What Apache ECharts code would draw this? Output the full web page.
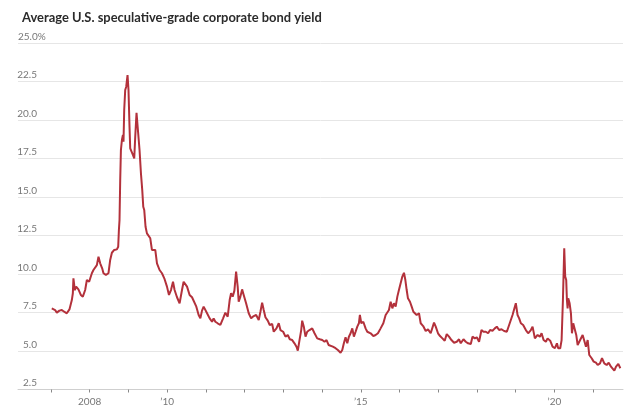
<!DOCTYPE html>
<html>
<head>
<meta charset="utf-8">
<script src="https://cdn.jsdelivr.net/npm/echarts@6/dist/echarts.min.js"></script>
<style>
html,body{margin:0;padding:0;background:#fff;}
#chart{width:630px;height:419px;}
</style>
</head>
<body>
<div id="chart"></div>
<script>
const titleText = 'Average U.S. speculative-grade corporate bond yield';
// decimal years
const years = [
2007.022,2007.108,2007.152,2007.219,2007.281,2007.341,2007.410,2007.478,2007.540,2007.566,2007.581,2007.617,2007.651,2007.710,2007.772,2007.824,2007.884,2007.928,2007.987,
2008.057,2008.098,2008.142,2008.186,2008.228,2008.272,2008.323,2008.357,2008.419,2008.486,2008.530,2008.574,2008.634,2008.703,2008.737,2008.755,2008.771,2008.789,2008.807,2008.833,2008.859,2008.874,2008.892,2008.918,2008.944,2008.978,
2009.003,2009.029,2009.047,2009.081,2009.117,2009.151,2009.177,2009.210,2009.246,2009.288,2009.324,2009.358,2009.384,2009.409,2009.443,2009.479,2009.521,2009.565,2009.608,2009.650,2009.694,2009.738,2009.805,2009.867,2009.927,2009.996,
2010.048,2010.100,2010.152,2010.193,2010.255,2010.322,2010.384,2010.426,2010.470,2010.514,2010.581,2010.643,2010.684,2010.754,2010.814,2010.858,2010.901,2010.943,2010.987,
2011.031,2011.098,2011.160,2011.201,2011.245,2011.305,2011.375,2011.445,2011.504,2011.564,2011.615,2011.651,2011.693,2011.737,2011.781,2011.822,2011.848,2011.892,2011.936,2011.977,
2012.039,2012.107,2012.169,2012.236,2012.298,2012.365,2012.409,2012.453,2012.494,2012.538,2012.598,2012.650,2012.712,2012.753,2012.823,2012.882,2012.926,2012.996,
2013.056,2013.115,2013.167,2013.229,2013.288,2013.340,2013.374,2013.418,2013.462,2013.487,2013.529,2013.573,2013.617,2013.676,2013.746,2013.806,2013.875,2013.943,
2014.005,2014.064,2014.116,2014.168,2014.219,2014.279,2014.349,2014.408,2014.478,2014.522,2014.563,2014.607,2014.651,2014.693,2014.737,2014.781,2014.822,2014.866,2014.910,2014.951,2014.977,
2015.013,2015.065,2015.124,2015.168,2015.210,2015.254,2015.324,2015.383,2015.443,2015.512,2015.582,2015.642,2015.686,2015.727,2015.771,2015.815,2015.856,2015.900,2015.944,2015.985,
2016.029,2016.073,2016.115,2016.151,2016.185,2016.218,2016.270,2016.314,2016.358,2016.400,2016.443,2016.503,2016.547,2016.611,2016.676,2016.736,2016.805,2016.849,2016.891,2016.935,2016.994,
2017.046,2017.108,2017.167,2017.219,2017.278,2017.341,2017.408,2017.478,2017.537,2017.581,2017.651,2017.710,2017.770,2017.840,2017.884,2017.943,2017.995,
2018.054,2018.116,2018.168,2018.228,2018.287,2018.339,2018.401,2018.460,2018.512,2018.571,2018.634,2018.701,2018.771,2018.830,2018.874,2018.918,2018.959,
2019.003,2019.047,2019.089,2019.133,2019.192,2019.262,2019.321,2019.391,2019.435,2019.495,2019.565,2019.624,2019.668,2019.720,2019.779,2019.823,2019.890,2019.952,
2020.012,2020.064,2020.097,2020.149,2020.185,2020.219,2020.253,2020.278,2020.304,2020.322,2020.340,2020.356,2020.392,2020.426,2020.452,2020.485,2020.529,2020.563,2020.599,2020.641,2020.685,2020.728,2020.770,2020.814,2020.858,2020.899,2020.961,
2021.013,2021.072,2021.116,2021.176,2021.228,2021.287,2021.349,2021.401,2021.460,2021.504,2021.546,2021.590,2021.649,2021.701
];
// yield, percent
const yields = [
7.77,7.66,7.49,7.62,7.66,7.55,7.45,7.70,8.31,8.75,9.72,8.96,9.18,9.00,8.64,8.53,8.96,9.61,9.50,
10.05,10.26,10.21,10.58,11.12,10.69,10.37,10.05,9.94,10.05,10.91,11.38,11.56,11.60,11.77,12.86,13.50,16.10,18.05,18.70,19.03,18.59,20.65,21.95,22.16,22.92,
21.95,19.57,18.16,18.05,17.73,17.51,18.92,20.47,19.35,18.05,16.54,15.45,14.37,14.16,13.07,12.64,12.75,12.32,11.56,11.45,11.56,10.69,10.26,10.05,9.72,9.18,
8.64,8.96,9.50,8.96,8.49,8.10,8.96,9.50,9.50,9.18,8.64,8.49,8.53,7.88,7.34,7.12,7.62,7.88,7.77,
7.45,7.12,6.90,7.12,6.90,6.80,6.69,7.12,7.49,7.23,8.31,8.75,8.53,8.92,10.15,9.18,8.20,8.53,9.00,8.64,
8.10,7.45,7.12,7.27,7.34,7.01,7.55,8.14,7.66,7.19,6.97,6.69,6.75,6.25,6.47,6.80,6.36,6.25,
5.93,6.04,5.76,5.71,5.50,5.28,5.02,5.71,6.36,6.97,6.58,5.93,6.25,6.36,6.47,6.15,5.82,5.76,
5.71,5.60,5.71,5.39,5.45,5.28,5.18,5.06,4.89,5.06,5.50,5.89,5.50,5.93,6.15,6.47,5.93,6.25,6.58,6.80,7.34,
6.80,6.90,6.47,6.25,6.36,6.15,5.97,6.04,6.15,6.47,6.80,7.34,7.23,7.66,8.20,7.77,8.10,7.88,8.53,8.96,
9.40,9.83,10.08,9.61,8.96,8.42,8.20,7.88,7.55,7.66,7.34,7.45,6.80,6.62,6.30,6.40,6.15,6.25,6.84,6.58,6.15,
5.97,5.82,5.67,6.10,5.93,5.71,5.54,5.60,5.76,5.50,5.76,5.60,5.50,5.45,5.93,5.82,5.89,
5.60,6.36,6.25,6.25,6.15,6.36,6.32,6.47,6.58,6.36,6.41,6.30,6.25,6.69,7.01,7.34,7.45,
8.10,7.34,7.12,6.80,6.69,6.36,6.15,6.36,6.58,5.82,6.04,5.93,6.15,5.71,5.60,5.82,5.67,5.28,
5.18,5.50,5.18,5.18,5.71,8.31,11.67,9.83,9.61,8.31,7.77,8.42,8.10,7.45,6.15,6.80,6.90,6.04,5.39,5.60,5.50,6.04,5.93,5.28,5.71,4.74,4.53,
4.31,4.24,4.09,4.20,4.53,4.20,4.09,4.24,3.98,4.09,3.72,3.98,4.16,3.88
];
const tickYears = [2007,2008,2009,2010,2011,2012,2013,2014,2015,2016,2017,2018,2019,2020,2021];
const labelYears = [2008,2010,2015,2020];

// pick the narrowest installed sans family and size text to the reference widths
const cv = document.createElement('canvas').getContext('2d');
function w(font, txt){ cv.font = font; return cv.measureText(txt).width; }
const families = ['Liberation Sans Narrow','DejaVu Sans Condensed','Roboto','Lato','Noto Sans','Open Sans','Inter','Liberation Sans','DejaVu Sans'];
let best = null, bestW = Infinity;
families.forEach(f=>{
  const a = w("bold 14px monospace", titleText);
  const b = w("bold 14px '"+f+"', monospace", titleText);
  if (Math.abs(a-b) > 0.5 && b < bestW){ best = f; bestW = b; }
});
const FAM = best ? "'"+best+"', sans-serif" : 'sans-serif';
const titleSize = Math.max(11, Math.min(15.5, 14*300/w("bold 14px "+FAM, titleText)));
const labelSize = Math.max(10, Math.min(12.5, 12*19/w("12px "+FAM, '22.5')));

const chart = echarts.init(document.getElementById('chart'), null, {renderer:'canvas'});
const seriesData = years.map((y,i)=>[y, yields[i]]);

chart.setOption({
  animation:false,
  backgroundColor:'#ffffff',
  title:{
    text:titleText, left:17, top:6,
    textStyle:{fontFamily:FAM, fontSize:titleSize, fontWeight:'bold', color:'#2b2b2b'}
  },
  grid:{left:18, right:7, top:43, bottom:29.5, containLabel:false, outerBoundsMode:'none'},
  xAxis:{
    type:'value', min:2006.15, max:2021.77,
    splitLine:{show:false},
    axisLine:{show:true, lineStyle:{color:'#cfcfcf', width:1}},
    axisTick:{show:true, customValues:tickYears, length:3, lineStyle:{color:'#888', width:1}},
    axisLabel:{
      customValues:labelYears, margin:7, color:'#777', fontFamily:FAM, fontSize:labelSize,
      formatter:(v)=> v===2008 ? '2008' : '\u2019' + String(v).slice(2)
    }
  },
  yAxis:[{
    type:'value', min:2.5, max:25, interval:2.5,
    axisLine:{show:false}, axisTick:{show:false},
    splitLine:{show:true, lineStyle:{color:'#e6e6e6', width:1}},
    axisLabel:{
      inside:true, margin:19, align:'right', verticalAlign:'bottom',
      color:'#777', fontFamily:FAM, fontSize:labelSize, lineHeight:13,
      formatter:(v)=> v===25 ? '' : v.toFixed(1)
    }
  },{
    type:'value', min:2.5, max:25, interval:2.5, position:'left',
    axisLine:{show:false}, axisTick:{show:false}, splitLine:{show:false},
    axisLabel:{
      inside:true, margin:0, align:'left', verticalAlign:'bottom',
      color:'#777', fontFamily:FAM, fontSize:labelSize, lineHeight:13,
      formatter:(v)=> v===25 ? '25.0%' : ''
    }
  }],
  series:[{
    type:'line', data:seriesData, showSymbol:false, smooth:false,
    lineStyle:{color:'#b3313b', width:2}, itemStyle:{color:'#b3313b'}
  }]
});
</script>
</body>
</html>
